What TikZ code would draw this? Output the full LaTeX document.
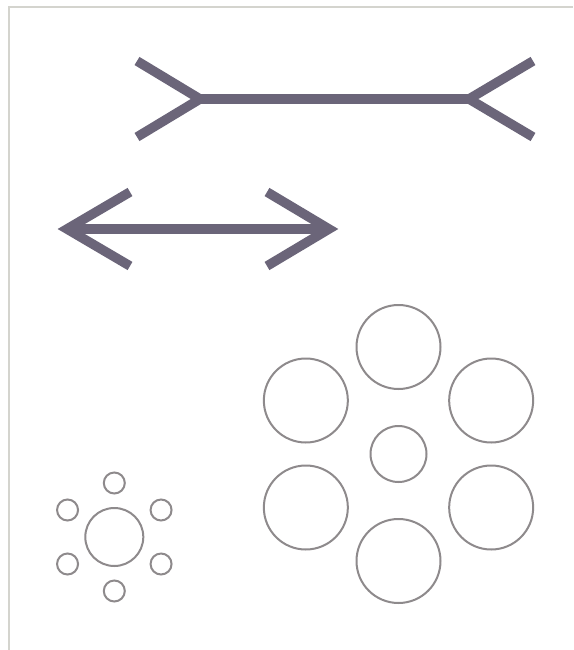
\documentclass[tikz,border=0pt]{standalone}
\definecolor{arrowcol}{HTML}{6B6579}
\definecolor{circcol}{HTML}{8E8A8C}
\definecolor{framecol}{HTML}{D4D4CE}
\begin{document}
\begin{tikzpicture}[x=1pt,y=-1pt,
  fig/.style={draw=arrowcol,line width=9.5pt,line join=miter,line cap=butt},
  ring/.style={draw=circcol,line width=2pt}]
\useasboundingbox (0,0) rectangle (573,650);
\fill[white] (0,0) rectangle (573,650);
\draw[framecol,line width=1.5pt] (9,650) -- (9,7) -- (573,7);
% Mueller-Lyer top figure
\coordinate (lv) at (200,99);
\coordinate (rv) at (469,99);
\draw[fig] (137,61) -- (lv) -- (137,137);
\draw[fig] (533,61) -- (rv) -- (533,137);
\draw[fig] (lv) -- (rv);
% double arrow
\coordinate (lt) at (67,229);
\coordinate (rt) at (329,229);
\draw[fig] (130,192) -- (lt) -- (130,266);
\draw[fig] (267,192) -- (rt) -- (267,266);
\draw[fig] (lt) -- (rt);
% Ebbinghaus large surround
\coordinate (c1) at (398.5,454);
\draw[ring] (c1) circle (28);
\foreach \a in {90,30,-30,-90,-150,150}
  \draw[ring] (c1) ++(\a:-107) circle (42);
% Ebbinghaus small surround
\coordinate (c2) at (114.3,537);
\draw[ring] (c2) circle (29);
\foreach \a in {90,30,-30,-90,-150,150}
  \draw[ring] (c2) ++(\a:-54) circle (10.5);
\end{tikzpicture}
\end{document}
